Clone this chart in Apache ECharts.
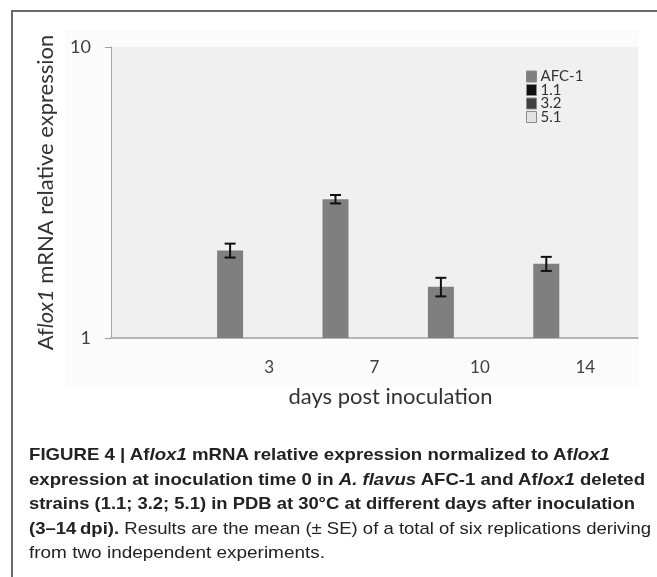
<!DOCTYPE html>
<html lang="en">
<head>
    <meta charset="UTF-8">
    <title>Aflox1 relative expression</title>
    <style>
        html, body { margin: 0; padding: 0; background: #fff; }
        #wrap { position: relative; width: 657px; height: 577px; overflow: hidden; }
        #frame { position: absolute; left: 11px; top: 10px; width: 660px; height: 600px;
                 border-top: 2px solid #6a6a6a; border-left: 2px solid #6a6a6a; }
        #chart { position: absolute; left: 0; top: 0; width: 657px; height: 577px; }
        #caption { position: absolute; left: 29px; top: 443px; white-space: nowrap;
                   font-family: "Liberation Sans", Arial, sans-serif;
                   font-size: 17px; line-height: 24.5px; color: #222; }
        #caption .l { display: block; transform-origin: 0 0; }
        #caption b { font-weight: bold; }
    </style>
</head>
<body>
<div id="wrap">
    <div id="frame"></div>
    <div id="chart"></div>
    <div id="caption">
        <span class="l" data-w="581"><b>FIGURE 4 | Af<i>lox1</i> mRNA relative expression normalized to Af<i>lox1</i></b></span>
        <span class="l" data-w="616"><b>expression at inoculation time 0 in <i>A. flavus</i> AFC-1 and Af<i>lox1</i> deleted</b></span>
        <span class="l" data-w="606"><b>strains (1.1; 3.2; 5.1) in PDB at 30°C at different days after inoculation</b></span>
        <span class="l" data-w="622"><b>(3–14&#8201;dpi).</b> Results are the mean (± SE) of a total of six replications deriving</span>
        <span class="l" data-w="296">from two independent experiments.</span>
    </div>
</div>
<script src="https://cdn.jsdelivr.net/npm/echarts@6/dist/echarts.min.js"></script>
<script type="text/javascript">
    // days post inoculation (first slot is the empty day-0 position)
    var days = ['', '3', '7', '10', '14'];
    var strains = ['AFC-1', '1.1', '3.2', '5.1'];
    var colors = ['#7f7f7f', '#111111', '#404040', '#e2e2e2'];

    // relative expression
    var afc1 = [null, 2.0, 3.0, 1.5, 1.8];
    var afc1Se = [null, 0.11, 0.10, 0.11, 0.10];
    var s11 = [1, 1, 1, 1, 1];
    var s32 = [1, 1, 1, 1, 1];
    var s51 = [1, 1, 1, 1, 1];

    var barW = 26;
    var font = 'Lato, "Open Sans", sans-serif';

    // squeeze each caption line to the width it has in the figure
    var lines = document.querySelectorAll('#caption .l');
    for (var k = 0; k < lines.length; k++) {
        var el = lines[k];
        el.style.display = 'inline-block';
        var w = el.getBoundingClientRect().width;
        el.style.display = 'block';
        el.style.transform = 'scaleX(' + (parseFloat(el.getAttribute('data-w')) / w) + ')';
    }

    var errData = [];
    for (var i = 0; i < days.length; i++) {
        if (afc1[i] != null) {
            errData.push([i, afc1[i] - afc1Se[i], afc1[i] + afc1Se[i]]);
        }
    }

    var chart = echarts.init(document.getElementById('chart'));

    function barSeries(name, data, color) {
        return {
            name: name,
            type: 'bar',
            data: data,
            barWidth: barW,
            barGap: '0%',
            itemStyle: { color: color },
            emphasis: { disabled: true }
        };
    }

    chart.setOption({
        animation: false,
        textStyle: { fontFamily: font },
        graphic: [{
            type: 'rect',
            z: -10,
            shape: { x: 65, y: 30, width: 574, height: 357 },
            style: { fill: '#fbfbfb' }
        }],
        grid: {
            left: 111, right: 19, top: 47, bottom: 239,
            show: true, backgroundColor: '#f0f0f0', borderWidth: 0
        },
        legend: {
            data: strains,
            orient: 'vertical',
            left: 526, top: 69,
            padding: 0,
            itemWidth: 10, itemHeight: 11, itemGap: -1.5,
            icon: 'rect',
            itemStyle: { borderColor: '#8a8a8a', borderWidth: 1 },
            textStyle: { fontSize: 15, lineHeight: 13, color: '#333', fontFamily: font, padding: [0, 0, 0, -1] }
        },
        xAxis: {
            type: 'category',
            data: days,
            axisTick: { show: false },
            axisLine: { lineStyle: { color: '#a0a0a0', width: 1.5 } },
            axisLabel: { fontSize: 17, color: '#404040', margin: 21 },
            name: 'days post inoculation',
            nameLocation: 'middle',
            nameGap: 48,
            nameTextStyle: { fontSize: 22, color: '#333', padding: [0, 0, 0, 32] }
        },
        yAxis: {
            type: 'log',
            logBase: 10,
            min: 1, max: 10,
            splitLine: { show: false },
            axisLine: { show: true, lineStyle: { color: '#a8a8a8', width: 1 } },
            axisTick: { show: true, length: 6, lineStyle: { color: '#a0a0a0' } },
            axisLabel: { fontSize: 18, color: '#404040', margin: 20 },
            name: 'Af{it|lox1} mRNA relative expression',
            nameLocation: 'middle',
            nameGap: 54,
            nameRotate: 90,
            nameTextStyle: {
                fontSize: 22, color: '#333',
                rich: { it: { fontSize: 22, fontStyle: 'italic', color: '#333' } }
            }
        },
        series: [
            barSeries(strains[0], afc1, colors[0]),
            barSeries(strains[1], s11, colors[1]),
            barSeries(strains[2], s32, colors[2]),
            barSeries(strains[3], s51, colors[3]),
            {
                type: 'custom',
                name: 'SE',
                data: errData,
                z: 10,
                encode: { x: 0, y: [1, 2] },
                renderItem: function (params, api) {
                    var lo = api.coord([api.value(0), api.value(1)]);
                    var hi = api.coord([api.value(0), api.value(2)]);
                    var x = lo[0] - 1.5 * barW;
                    var cap = 5.5;
                    var st = { stroke: '#111', lineWidth: 2 };
                    return {
                        type: 'group',
                        children: [
                            { type: 'line', shape: { x1: x, y1: hi[1], x2: x, y2: lo[1] }, style: st },
                            { type: 'line', shape: { x1: x - cap, y1: hi[1], x2: x + cap, y2: hi[1] }, style: st },
                            { type: 'line', shape: { x1: x - cap, y1: lo[1], x2: x + cap, y2: lo[1] }, style: st }
                        ]
                    };
                }
            }
        ]
    });
</script>
</body>
</html>
